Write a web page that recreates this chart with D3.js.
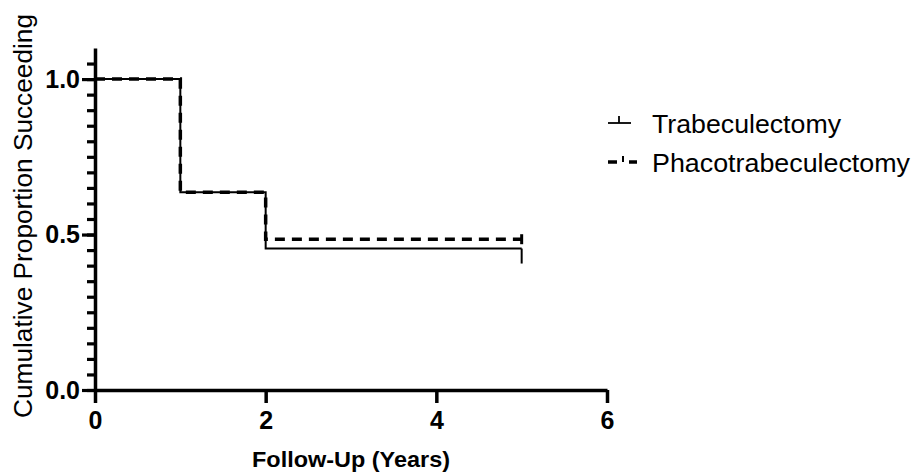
<!DOCTYPE html>
<html>
<head>
<meta charset="utf-8">
<script src="https://cdn.jsdelivr.net/npm/d3@7"></script>
<style>
  body { margin: 0; background: #fff; }
  svg { display: block; font-family: "Liberation Sans", Arial, sans-serif; }
</style>
</head>
<body>
<div id="graph"></div>
<script>
// Kaplan-Meier style curves
var times      = [ 0, 1, 2, 5 ];
var trabSurv   = [ 1.0, 0.636, 0.455, 0.455 ];
var phacoSurv  = [ 1.0, 0.636, 0.485, 0.485 ];
var censorTime = 5;

var seriesNames = [ 'Trabeculectomy', 'Phacotrabeculectomy' ];

var xTicks      = [ 0, 2, 4, 6 ];
var yMajorTicks = [ 0, 0.5, 1.0 ];
var yMinorTicks = d3.range (0, 22).map (function (i) { return i * 0.05; });

var width  = 915;
var height = 472;

var x = d3.scaleLinear ().domain ([0, 6]).range ([95, 607]);
var y = d3.scaleLinear ().domain ([0, 1.1]).range ([390, 48]);

var svg = d3.select ('#graph').append ('svg')
            .attr ('width', width)
            .attr ('height', height);

// minor y ticks
svg.append ('g')
   .attr ('transform', 'translate(' + x(0) + ',0)')
   .call (d3.axisLeft (y).tickValues (yMinorTicks).tickSize (8).tickSizeOuter (0).tickFormat (''))
   .call (function (g) { g.select ('.domain').remove (); })
   .selectAll ('line').attr ('stroke', '#000').attr ('stroke-width', 3.2);

// y axis major
var yAxis = svg.append ('g')
   .attr ('transform', 'translate(' + x(0) + ',0)')
   .call (d3.axisLeft (y).tickValues (yMajorTicks).tickSize (13).tickSizeOuter (0).tickPadding (2).tickFormat (d3.format ('.1f')));
yAxis.select ('.domain').attr ('stroke', '#000').attr ('stroke-width', 3.5);
yAxis.selectAll ('line').attr ('stroke', '#000').attr ('stroke-width', 3.2);
yAxis.selectAll ('text').attr ('fill', '#000').style ('font-size', '25px').style ('font-weight', 'bold');

// x axis
var xAxis = svg.append ('g')
   .attr ('transform', 'translate(0,' + y(0) + ')')
   .call (d3.axisBottom (x).tickValues (xTicks).tickSize (13).tickSizeOuter (0).tickPadding (8).tickFormat (d3.format ('d')));
xAxis.select ('.domain').attr ('stroke', '#000').attr ('stroke-width', 3.5);
xAxis.selectAll ('line').attr ('stroke', '#000').attr ('stroke-width', 3.5);
xAxis.selectAll ('text').attr ('fill', '#000').style ('font-size', '25px').style ('font-weight', 'bold');

// axis titles
svg.append ('text')
   .attr ('x', 351).attr ('y', 467)
   .attr ('text-anchor', 'middle')
   .style ('font-size', '22px').style ('font-weight', 'bold')
   .attr ('textLength', 198).attr ('lengthAdjust', 'spacingAndGlyphs')
   .text ('Follow-Up (Years)');

svg.append ('text')
   .attr ('transform', 'translate(32,216) rotate(-90)')
   .attr ('text-anchor', 'middle')
   .style ('font-size', '25px')
   .attr ('textLength', 404).attr ('lengthAdjust', 'spacingAndGlyphs')
   .text ('Cumulative  Proportion Succeeding');

// curves
var line = d3.line ()
             .x (function (d) { return x(d[0]); })
             .y (function (d) { return y(d[1]); })
             .curve (d3.curveStepAfter);

svg.append ('path')
   .datum (d3.zip (times, trabSurv))
   .attr ('d', line)
   .attr ('fill', 'none').attr ('stroke', '#000').attr ('stroke-width', 2);

svg.append ('path')
   .datum (d3.zip (times, phacoSurv))
   .attr ('d', line)
   .attr ('fill', 'none').attr ('stroke', '#000').attr ('stroke-width', 3.5)
   .attr ('stroke-dasharray', '10,7');

// censor ticks
svg.append ('line')
   .attr ('x1', x(censorTime)).attr ('x2', x(censorTime))
   .attr ('y1', y(trabSurv[3])).attr ('y2', y(trabSurv[3]) + 15)
   .attr ('stroke', '#000').attr ('stroke-width', 2);
svg.append ('line')
   .attr ('x1', x(censorTime)).attr ('x2', x(censorTime))
   .attr ('y1', y(phacoSurv[3]) - 5).attr ('y2', y(phacoSurv[3]) + 5)
   .attr ('stroke', '#000').attr ('stroke-width', 3);

// legend
var legend = svg.append ('g');
legend.append ('line').attr ('x1', 608).attr ('x2', 631).attr ('y1', 123).attr ('y2', 123)
      .attr ('stroke', '#000').attr ('stroke-width', 1.8);
legend.append ('line').attr ('x1', 619).attr ('x2', 619).attr ('y1', 116).attr ('y2', 123)
      .attr ('stroke', '#000').attr ('stroke-width', 1.8);
legend.append ('line').attr ('x1', 608).attr ('x2', 617).attr ('y1', 162).attr ('y2', 162)
      .attr ('stroke', '#000').attr ('stroke-width', 3.5);
legend.append ('line').attr ('x1', 629).attr ('x2', 637).attr ('y1', 162).attr ('y2', 162)
      .attr ('stroke', '#000').attr ('stroke-width', 3.5);
legend.append ('line').attr ('x1', 623).attr ('x2', 623).attr ('y1', 156).attr ('y2', 162)
      .attr ('stroke', '#000').attr ('stroke-width', 2);

legend.selectAll ('text.lbl')
      .data (seriesNames)
      .enter ()
      .append ('text')
      .attr ('class', 'lbl')
      .attr ('x', 652)
      .attr ('y', function (d, i) { return 133 + i * 39; })
      .style ('font-size', '25px')
      .attr ('textLength', function (d, i) { return i == 0 ? 189 : 258; })
      .attr ('lengthAdjust', 'spacingAndGlyphs')
      .text (function (d) { return d; });
</script>
</body>
</html>
